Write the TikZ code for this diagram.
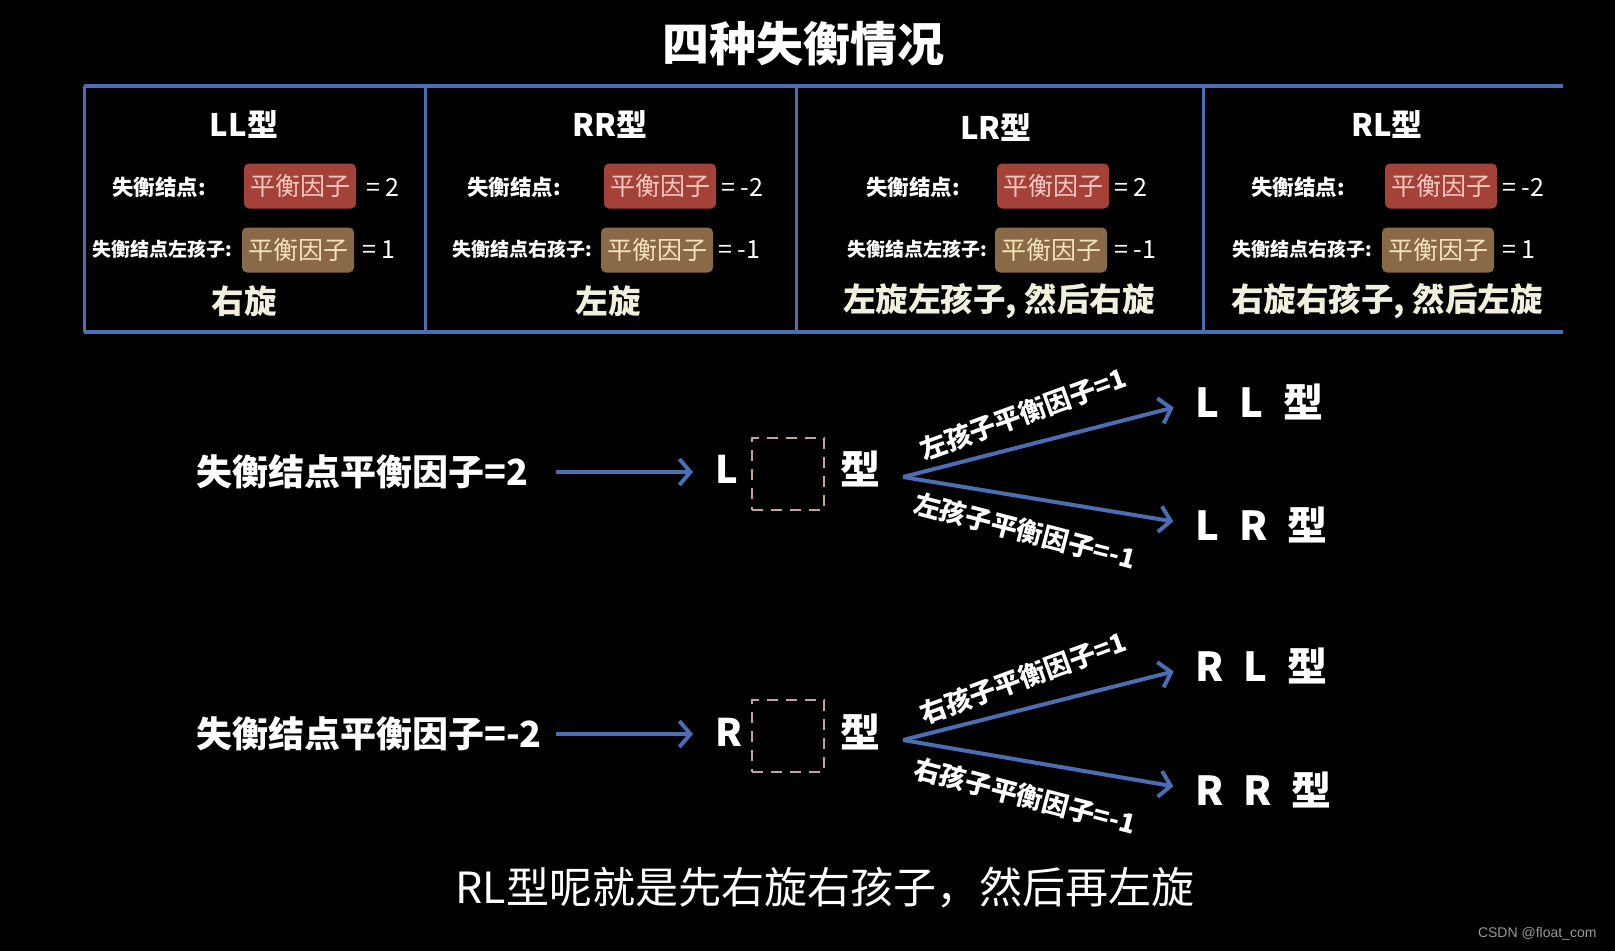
\documentclass[tikz,border=0pt]{standalone}
\usepackage{fontspec}
\setmainfont{Noto Sans CJK SC}
\newfontfamily\wmfont{Liberation Sans}
\usetikzlibrary{arrows.meta}
\definecolor{tblue}{HTML}{4A6DB3}
\definecolor{redbox}{HTML}{A4423A}
\definecolor{redtxt}{HTML}{F8C8C0}
\definecolor{brownbox}{HTML}{8A6946}
\definecolor{browntxt}{HTML}{F6E2BA}
\definecolor{cream}{HTML}{F0F0DC}
\definecolor{dashc}{HTML}{C9A0A0}
\tikzset{
  x=1pt, y=-1pt,
  tline/.style={tblue, line width=4pt},
  vline/.style={tblue, line width=3pt},
  head/.style={text=white, font=\fontsize{31}{31}\selectfont\bfseries},
  lab/.style={text=white, font=\fontsize{21.5}{21.5}\selectfont\bfseries},
  labs/.style={text=white, font=\fontsize{19}{19}\selectfont\bfseries},
  rbox/.style={fill=redbox, rounded corners=5pt, text=redtxt, minimum width=112pt, minimum height=45pt, inner sep=0pt, font=\fontsize{25}{25}\selectfont},
  bbox/.style={fill=brownbox, rounded corners=5pt, text=browntxt, minimum width=112pt, minimum height=45pt, inner sep=0pt, font=\fontsize{25}{25}\selectfont},
  eq/.style={text=white, anchor=west, inner sep=0pt, font=\fontsize{25}{25}\selectfont},
  rot/.style={text=cream, font=\fontsize{32.5}{32.5}\selectfont\bfseries},
  big/.style={text=white, font=\fontsize{36}{36}\selectfont\bfseries},
  kind/.style={text=white, anchor=west, inner sep=0pt, font=\fontsize{40}{40}\selectfont\bfseries},
  arr/.style={tblue, line width=4pt, -{Straight Barb[length=11pt, width=26pt, line width=4pt]}},
  alab/.style={text=white, font=\fontsize{26.5}{26.5}\selectfont\bfseries},
  dbox/.style={draw=dashc, line width=2pt, dash pattern=on 11pt off 8pt, minimum width=72pt, minimum height=72pt, inner sep=0pt},
}
\newcommand{\gap}{\hspace{20pt}}
\begin{document}
\begin{tikzpicture}
\useasboundingbox (0,0) rectangle (1615,951);
\fill[black] (0,0) rectangle (1615,951);

% title
\node[text=white, font=\fontsize{47}{47}\selectfont\bfseries] (title) at (803,44) {四种失衡情况};

% table lines
\draw[tline] (84,86) -- (1563,86);
\draw[tline] (84,332) -- (1563,332);
\draw[vline] (84,86) -- (84,332);
\draw[vline] (425,86) -- (425,332);
\draw[vline] (796,86) -- (796,332);
\draw[vline] (1203,86) -- (1203,332);

% cell 1
\node[head] (h1) at (244,124) {LL型};
\node[lab] (a1) at (159,187) {失衡结点:};
\node[rbox] (r1) at (300,186) {平衡因子};
\node[eq] (e1) at (366,187) {= 2};
\node[labs] (b1) at (162,249) {失衡结点左孩子:};
\node[bbox] (k1) at (298,250) {平衡因子};
\node[eq] (f1) at (362,250) {= 1};
\node[rot] (t1) at (244,301) {右旋};

% cell 2
\node[head] (h2) at (610,124) {RR型};
\node[lab] (a2) at (514,187) {失衡结点:};
\node[rbox] (r2) at (660,186) {平衡因子};
\node[eq] (e2) at (721,187) {= -2};
\node[labs] (b2) at (522,249) {失衡结点右孩子:};
\node[bbox] (k2) at (657,250) {平衡因子};
\node[eq] (f2) at (718,250) {= -1};
\node[rot] (t2) at (608,301) {左旋};

% cell 3
\node[head] (h3) at (996,127) {LR型};
\node[lab] (a3) at (913,187) {失衡结点:};
\node[rbox] (r3) at (1053,186) {平衡因子};
\node[eq] (e3) at (1114,187) {= 2};
\node[labs] (b3) at (917,249) {失衡结点左孩子:};
\node[bbox] (k3) at (1051,250) {平衡因子};
\node[eq] (f3) at (1114,250) {= -1};
\node[rot] (t3) at (999,301) {左旋左孩子, 然后右旋};

% cell 4
\node[head] (h4) at (1387,124) {RL型};
\node[lab] (a4) at (1298,187) {失衡结点:};
\node[rbox] (r4) at (1441,186) {平衡因子};
\node[eq] (e4) at (1502,187) {= -2};
\node[labs] (b4) at (1302,249) {失衡结点右孩子:};
\node[bbox] (k4) at (1438,250) {平衡因子};
\node[eq] (f4) at (1502,250) {= 1};
\node[rot] (t4) at (1387,301) {右旋右孩子, 然后左旋};

% lower row 1
\node[big, anchor=west, inner sep=0pt] (s1) at (196,472) {失衡结点平衡因子=2};
\coordinate (s1e) at (556,472);
\node[big, font=\fontsize{38}{38}\selectfont\bfseries] (L1) at (727,469) {L};
\node[dbox] (d1) at (788,474) {};
\node[big, font=\fontsize{40}{40}\selectfont\bfseries] (x1) at (860,469) {型};
\draw[arr] (s1e) -- (693,472) coordinate (s1t);
\coordinate (f1p) at (903,477);
\node[kind] (LL) at (1195,402) {L\gap L\gap 型};
\node[kind] (LR) at (1195,525) {L\gap R\gap 型};
\draw[arr, shorten >=22pt] (f1p) -- (LL.west);
\draw[arr, shorten >=22pt] (f1p) -- (LR.west);
\node[alab, rotate=20] (u1) at (1023,414) {左孩子平衡因子=1};
\node[alab, rotate=-14.5] (w1) at (1025,531) {左孩子平衡因子=-1};

% lower row 2
\node[big, anchor=west, inner sep=0pt] (s2) at (196,734) {失衡结点平衡因子=-2};
\coordinate (s2e) at (556,734);
\node[big, font=\fontsize{38}{38}\selectfont\bfseries] (R2) at (729,732) {R};
\node[dbox] (d2) at (788,736) {};
\node[big, font=\fontsize{40}{40}\selectfont\bfseries] (x2) at (860,732) {型};
\draw[arr] (s2e) -- (693,734) coordinate (s2t);
\coordinate (f2p) at (903,740);
\node[kind] (RL) at (1195,666) {R\gap L\gap 型};
\node[kind] (RR) at (1195,790) {R\gap R\gap 型};
\draw[arr, shorten >=22pt] (f2p) -- (RL.west);
\draw[arr, shorten >=22pt] (f2p) -- (RR.west);
\node[alab, rotate=20] (u2) at (1023,678) {右孩子平衡因子=1};
\node[alab, rotate=-14.5] (w2) at (1025,796) {右孩子平衡因子=-1};

% bottom caption
\node[text=white, font=\fontsize{43}{43}\selectfont] (cap) at (825,888) {RL型呢就是先右旋右孩子，然后再左旋};

% watermark
\node[text=gray!80, anchor=east, font=\wmfont\fontsize{14}{14}\selectfont] (wm) at (1600,934) {CSDN @float\_com};
\end{tikzpicture}
\end{document}
